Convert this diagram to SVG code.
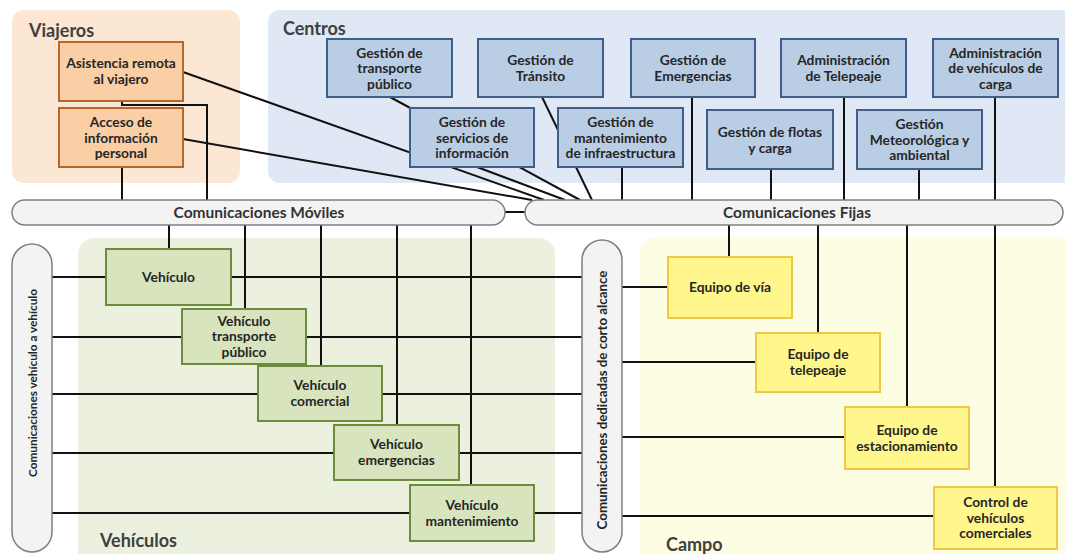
<svg xmlns="http://www.w3.org/2000/svg" width="1065" height="554" viewBox="0 0 1065 554">
<style>
.t{font-family:Lato,"Liberation Sans",sans-serif;font-weight:bold;font-size:13.8px;fill:#262626;text-anchor:middle}
.sec{font-family:Lato,"Liberation Sans",sans-serif;font-weight:bold;font-size:18px;fill:#404040}
.bus{font-family:Lato,"Liberation Sans",sans-serif;font-weight:bold;font-size:15.5px;fill:#333;text-anchor:middle}
.pill{fill:#f3f3f3;stroke:#7f7f7f;stroke-width:1.5}
.o{fill:#fbcfa6;stroke:#b8652c;stroke-width:2}
.b{fill:#b9cde5;stroke:#3f5f8a;stroke-width:2}
.g{fill:#d7e4bd;stroke:#6d8b3c;stroke-width:2}
.y{fill:#fff68c;stroke:#efc846;stroke-width:2}
.c{stroke:#111;stroke-width:2;fill:none}
</style>
<rect width="1065" height="554" fill="#ffffff"/>
<g id="areas">
<rect x="12" y="10" width="228" height="173" rx="12" fill="#fce6d4"/>
<rect x="268" y="10" width="810" height="173" rx="12" fill="#dfe8f4"/>
<rect x="78" y="238" width="477" height="330" rx="16" fill="#ebf1de"/>
<rect x="640" y="237" width="440" height="330" rx="16" fill="#fdfde4"/>
<text class="sec" x="29" y="37">Viajeros</text>
<text class="sec" x="283" y="35">Centros</text>
<text class="sec" x="100" y="547">Vehículos</text>
<text class="sec" x="666" y="551">Campo</text>
</g>
<g id="connectors">
<polyline class="c" points="122,101 122,105 207,105 207,200"/>
<line class="c" x1="122" y1="167" x2="122" y2="200"/>
<line class="c" x1="183" y1="72" x2="544" y2="200"/>
<line class="c" x1="183" y1="139" x2="532" y2="200"/>
<line class="c" x1="390" y1="97" x2="580" y2="200"/>
<line class="c" x1="477" y1="167" x2="565" y2="200"/>
<line class="c" x1="542" y1="97" x2="592" y2="200"/>
<line class="c" x1="622" y1="167" x2="622" y2="200"/>
<line class="c" x1="692" y1="97" x2="692" y2="200"/>
<line class="c" x1="771" y1="169" x2="771" y2="200"/>
<line class="c" x1="844" y1="97" x2="844" y2="200"/>
<line class="c" x1="919" y1="169" x2="919" y2="200"/>
<line class="c" x1="995" y1="97" x2="995" y2="200"/>
<line class="c" x1="505" y1="212" x2="525" y2="212"/>
<line class="c" x1="169" y1="225" x2="169" y2="249"/>
<line class="c" x1="245" y1="225" x2="245" y2="309"/>
<line class="c" x1="321" y1="225" x2="321" y2="366"/>
<line class="c" x1="397" y1="225" x2="397" y2="425"/>
<line class="c" x1="471" y1="225" x2="471" y2="485"/>
<line class="c" x1="52" y1="277" x2="582" y2="277"/>
<line class="c" x1="52" y1="337" x2="582" y2="337"/>
<line class="c" x1="52" y1="394" x2="582" y2="394"/>
<line class="c" x1="52" y1="453" x2="582" y2="453"/>
<line class="c" x1="52" y1="513" x2="582" y2="513"/>
<line class="c" x1="729" y1="225" x2="729" y2="257"/>
<line class="c" x1="818" y1="225" x2="818" y2="333"/>
<line class="c" x1="907" y1="225" x2="907" y2="407"/>
<line class="c" x1="995" y1="225" x2="995" y2="487"/>
<line class="c" x1="622" y1="287" x2="668" y2="287"/>
<line class="c" x1="622" y1="362" x2="756" y2="362"/>
<line class="c" x1="622" y1="437" x2="845" y2="437"/>
<line class="c" x1="622" y1="516" x2="934" y2="516"/>
</g>
<g id="bus-moviles"><rect class="pill" x="12" y="200" width="493" height="25" rx="12.5"/><text class="bus" x="259" y="218">Comunicaciones Móviles</text></g>
<g id="bus-fijas"><rect class="pill" x="525" y="200" width="538" height="25" rx="12.5"/><text class="bus" x="797" y="218">Comunicaciones Fijas</text></g>
<g id="bus-v2v"><rect class="pill" x="12" y="244" width="40" height="308" rx="20"/><text class="t" style="font-size:11.8px" transform="translate(36.5,383) rotate(-90)">Comunicaciones vehículo a vehículo</text></g>
<g id="bus-dsrc"><rect class="pill" x="582" y="240" width="40" height="312" rx="20"/><text class="t" style="font-size:13.3px" transform="translate(606.5,400) rotate(-90)">Comunicaciones dedicadas de corto alcance</text></g>
<g id="asistencia"><rect class="o" x="59" y="42" width="124" height="59"/><text class="t" x="121" y="68">Asistencia remota</text><text class="t" x="121" y="84">al viajero</text></g>
<g id="acceso"><rect class="o" x="59" y="108" width="124" height="59"/><text class="t" x="121" y="127">Acceso de</text><text class="t" x="121" y="142.5">información</text><text class="t" x="121" y="158">personal</text></g>
<g id="transporte-publico"><rect class="b" x="327" y="39" width="125" height="58"/><text class="t" x="389.5" y="57.5">Gestión de</text><text class="t" x="389.5" y="73">transporte</text><text class="t" x="389.5" y="88.5">público</text></g>
<g id="transito"><rect class="b" x="478" y="39" width="125" height="58"/><text class="t" x="540.5" y="64.5">Gestión de</text><text class="t" x="540.5" y="80.5">Tránsito</text></g>
<g id="emergencias"><rect class="b" x="631" y="39" width="124" height="58"/><text class="t" x="693" y="64.5">Gestión de</text><text class="t" x="693" y="80.5">Emergencias</text></g>
<g id="telepeaje"><rect class="b" x="781" y="39" width="125" height="58"/><text class="t" x="843.5" y="64.5">Administración</text><text class="t" x="843.5" y="80.5">de Telepeaje</text></g>
<g id="carga"><rect class="b" x="933" y="39" width="125" height="58"/><text class="t" x="995.5" y="57.5">Administración</text><text class="t" x="995.5" y="73">de vehículos de</text><text class="t" x="995.5" y="88.5">carga</text></g>
<g id="servicios"><rect class="b" x="410" y="108" width="124" height="59"/><text class="t" x="472" y="127">Gestión de</text><text class="t" x="472" y="142.5">servicios de</text><text class="t" x="472" y="158">información</text></g>
<g id="mantenimiento"><rect class="b" x="558" y="108" width="125" height="59"/><text class="t" x="620.5" y="127">Gestión de</text><text class="t" x="620.5" y="142.5">mantenimiento</text><text class="t" x="620.5" y="158">de infraestructura</text></g>
<g id="flotas"><rect class="b" x="707" y="110" width="126" height="59"/><text class="t" x="770" y="136.5">Gestión de flotas</text><text class="t" x="770" y="152.5">y carga</text></g>
<g id="meteo"><rect class="b" x="857" y="110" width="125" height="59"/><text class="t" x="919.5" y="129">Gestión</text><text class="t" x="919.5" y="144.5">Meteorológica y</text><text class="t" x="919.5" y="160">ambiental</text></g>
<g id="vehiculo"><rect class="g" x="106" y="249" width="125" height="56"/><text class="t" x="168.5" y="282">Vehículo</text></g>
<g id="veh-transporte"><rect class="g" x="182" y="309" width="124" height="55"/><text class="t" x="244" y="325.5">Vehículo</text><text class="t" x="244" y="341">transporte</text><text class="t" x="244" y="356.5">público</text></g>
<g id="veh-comercial"><rect class="g" x="258" y="366" width="124" height="55"/><text class="t" x="320" y="390">Vehículo</text><text class="t" x="320" y="406">comercial</text></g>
<g id="veh-emergencias"><rect class="g" x="334" y="425" width="125" height="55"/><text class="t" x="396.5" y="449">Vehículo</text><text class="t" x="396.5" y="465">emergencias</text></g>
<g id="veh-mantenimiento"><rect class="g" x="410" y="485" width="124" height="56"/><text class="t" x="472" y="509.5">Vehículo</text><text class="t" x="472" y="525.5">mantenimiento</text></g>
<g id="equipo-via"><rect class="y" x="668" y="257" width="124" height="61"/><text class="t" x="730" y="292">Equipo de vía</text></g>
<g id="equipo-telepeaje"><rect class="y" x="756" y="333" width="124" height="59"/><text class="t" x="818" y="359">Equipo de</text><text class="t" x="818" y="375">telepeaje</text></g>
<g id="equipo-estacionamiento"><rect class="y" x="845" y="407" width="124" height="62"/><text class="t" x="907" y="434.5">Equipo de</text><text class="t" x="907" y="450.5">estacionamiento</text></g>
<g id="control"><rect class="y" x="934" y="487" width="123" height="62"/><text class="t" x="995.5" y="507">Control de</text><text class="t" x="995.5" y="522.5">vehículos</text><text class="t" x="995.5" y="538">comerciales</text></g>
</svg>
